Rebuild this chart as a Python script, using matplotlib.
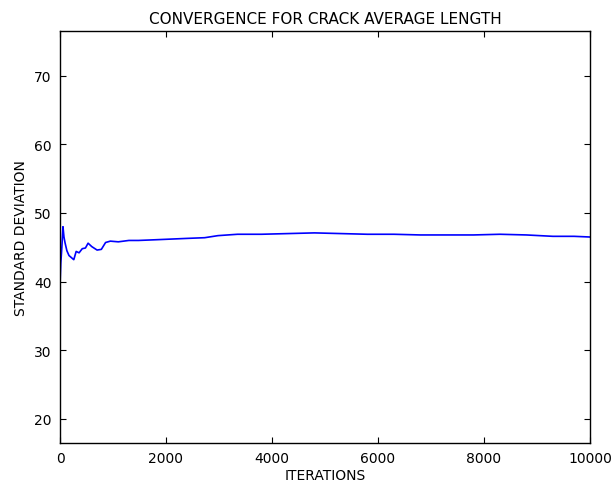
import matplotlib
matplotlib.use("Agg")
import matplotlib.pyplot as plt

iterations = [0, 15, 35, 56, 75, 94, 130, 170, 230, 260, 305, 360, 420, 480, 530,
              600, 700, 780, 860, 950, 1100, 1300, 1480, 1800, 2100, 2400, 2730,
              2980, 3350, 3800, 4300, 4800, 5300, 5800, 6300, 6800, 7300, 7800,
              8300, 8800, 9300, 9700, 10000]
std_dev = [39.5, 42.7, 45.0, 48.0, 46.5, 45.7, 44.5, 43.8, 43.4, 43.2, 44.4, 44.2,
           44.8, 44.9, 45.6, 45.1, 44.6, 44.7, 45.7, 45.9, 45.8, 46.0, 46.0, 46.1,
           46.2, 46.3, 46.4, 46.7, 46.9, 46.9, 47.0, 47.1, 47.0, 46.9, 46.9, 46.8,
           46.8, 46.8, 46.9, 46.8, 46.6, 46.6, 46.5]

fig = plt.figure(figsize=(6.11, 4.85), dpi=100, facecolor='white')
# axes box: x 60..590 px, y 32..444 px
ax = fig.add_axes([0.0982, 0.0845, 0.8674, 0.8495])

ax.plot(iterations, std_dev, color='#0000ff', linewidth=1.2)

ax.set_xlim(0, 10000)
ax.set_ylim(16.5, 76.5)
ax.set_xticks([0, 2000, 4000, 6000, 8000, 10000])
ax.set_yticks([20, 30, 40, 50, 60, 70])
ax.tick_params(direction='in', top=True, right=True, labelsize=10, length=4, pad=6)
for s in ax.spines.values():
    s.set_linewidth(1.0)

ax.set_title('CONVERGENCE FOR CRACK AVERAGE LENGTH', fontsize=11, pad=6)
ax.set_xlabel('ITERATIONS', fontsize=10, labelpad=2)
ax.set_ylabel('STANDARD DEVIATION', fontsize=10, labelpad=4)

fig.savefig('out.png', dpi=100, facecolor='white')
